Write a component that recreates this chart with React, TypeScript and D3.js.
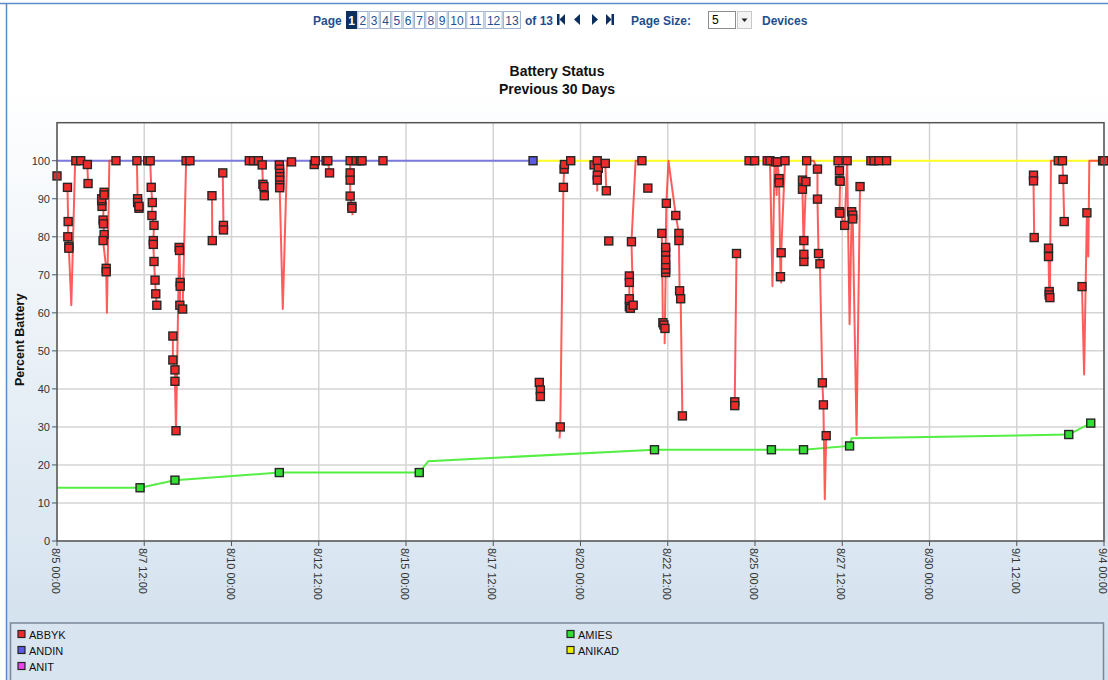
import React from "react";
import * as d3 from "d3";

// ---------- data ----------
// time = days after 8/5 00:00, value = percent battery, m = marker shown (1) or not (0)
type Pt = [number, number, number];

const startDate = new Date(2014, 7, 5, 0, 0);
const spanDays = 30;
const xTickStepDays = 2.5;
const yTicks = [0, 10, 20, 30, 40, 50, 60, 70, 80, 90, 100];
const pageNumbers = [1, 2, 3, 4, 5, 6, 7, 8, 9, 10, 11, 12, 13];

const abbykRuns: Pt[][] = [
  [[0.0, 96, 1]],
  [[0.3, 93, 1], [0.32, 84, 1], [0.31, 80, 1], [0.34, 77.5, 1], [0.34, 77, 1], [0.41, 62, 0], [0.52, 100, 0], [0.54, 100, 1], [0.68, 100, 1], [0.87, 99, 1], [0.89, 94, 1]],
  [[1.29, 88, 1], [1.28, 89.5, 1], [1.28, 90, 1], [1.35, 91.7, 1], [1.35, 91, 1], [1.32, 84.4, 1], [1.33, 83.4, 1], [1.35, 80.6, 1], [1.32, 79, 1], [1.41, 71.7, 1], [1.41, 70.8, 1], [1.43, 60, 0], [1.5, 100, 0], [1.69, 100, 1]],
  [[2.29, 100, 1], [2.31, 90, 1], [2.31, 89, 1], [2.35, 87.5, 1], [2.35, 88, 1]],
  [[2.6, 100, 1], [2.67, 100, 1], [2.7, 93, 1], [2.73, 89, 1], [2.72, 85.6, 1], [2.78, 83, 1], [2.76, 79, 1], [2.76, 78, 1], [2.78, 73.5, 1], [2.81, 68.6, 1], [2.83, 65, 1], [2.86, 62, 1]],
  [[3.32, 53.9, 1], [3.32, 47.6, 1], [3.38, 45, 1], [3.38, 42, 1], [3.41, 29, 1], [3.5, 77.2, 1], [3.51, 76.4, 1], [3.53, 68, 1], [3.53, 67, 1], [3.52, 62, 1], [3.6, 61, 1], [3.7, 100, 1], [3.81, 100, 1]],
  [[4.44, 90.8, 1], [4.45, 79, 1]],
  [[4.75, 96.8, 1], [4.77, 83, 1], [4.77, 81.8, 1]],
  [[5.51, 100, 1], [5.63, 100, 1], [5.77, 100, 1], [5.88, 98.9, 1], [5.9, 93.8, 1], [5.93, 93.2, 1], [5.94, 90.8, 1]],
  [[6.37, 98.9, 1], [6.38, 97.8, 1], [6.38, 96.7, 1], [6.38, 95.8, 1], [6.38, 94.9, 1], [6.38, 93.6, 1], [6.38, 92.9, 1], [6.47, 61, 0], [6.59, 100, 0], [6.72, 99.7, 1]],
  [[7.37, 99, 1], [7.4, 100, 1]],
  [[7.71, 100, 1], [7.76, 100, 1], [7.81, 96.8, 1]],
  [[8.4, 100, 1], [8.4, 96.8, 1], [8.4, 94.9, 1], [8.4, 90.7, 1], [8.45, 88, 1], [8.45, 87.5, 1], [8.47, 85.7, 0]],
  [[8.57, 100, 1], [8.69, 100, 1], [8.74, 100, 1]],
  [[9.34, 100, 1]],
  [[13.82, 41.7, 1], [13.85, 39.7, 1], [13.85, 38, 1]],
  [[14.4, 27, 0], [14.42, 30, 1], [14.51, 93, 1], [14.53, 97.8, 1], [14.54, 99, 1], [14.72, 100, 1]],
  [[15.39, 98.9, 1], [15.48, 100, 1], [15.51, 98, 1], [15.48, 96.2, 1], [15.48, 94.9, 1], [15.48, 91.9, 0]],
  [[15.71, 99.3, 1], [15.74, 92.1, 1]],
  [[15.81, 78.9, 1]],
  [[16.4, 69.7, 1], [16.4, 68, 1], [16.4, 63.7, 1], [16.4, 61.6, 1], [16.43, 61.2, 1], [16.51, 62, 1], [16.46, 78.7, 1], [16.58, 100, 0], [16.76, 100, 1]],
  [[16.93, 92.8, 1]],
  [[17.33, 80.9, 1], [17.36, 57.4, 1], [17.39, 56.8, 1], [17.42, 55.9, 1], [17.41, 52, 0], [17.44, 70.6, 1], [17.44, 71.5, 1], [17.44, 72.6, 1], [17.44, 74, 1], [17.44, 76, 1], [17.44, 77.2, 1], [17.46, 88.8, 1], [17.52, 100, 0], [17.73, 85.6, 1], [17.82, 80.9, 1], [17.82, 79, 1], [17.84, 65.8, 1], [17.87, 63.7, 1], [17.92, 32.9, 1]],
  [[19.47, 75.6, 1], [19.42, 36.6, 1], [19.42, 35.6, 1]],
  [[19.83, 100, 1], [19.99, 100, 1]],
  [[20.35, 100, 1], [20.43, 100, 1], [20.5, 67, 0], [20.56, 100, 0], [20.59, 99.7, 1], [20.62, 91, 0], [20.64, 99.7, 1], [20.69, 95.3, 1], [20.69, 94.2, 1], [20.73, 69.5, 1], [20.75, 68, 0], [20.75, 75.8, 1], [20.86, 100, 1]],
  [[21.36, 94.9, 1], [21.36, 92.5, 1], [21.4, 73.5, 1], [21.4, 75.4, 1], [21.4, 79, 1], [21.46, 94.5, 1], [21.48, 100, 1], [21.68, 100, 0], [21.79, 97.8, 1], [21.79, 89.9, 1], [21.82, 75.6, 1], [21.86, 72.9, 1], [21.93, 41.6, 1], [21.96, 35.8, 1], [22.0, 11, 0], [22.04, 27.7, 1]],
  [[22.38, 100, 1], [22.42, 97.4, 1], [22.42, 94.9, 1], [22.44, 94.6, 1], [22.42, 86.6, 1], [22.43, 86.2, 1], [22.57, 83, 1], [22.64, 100, 1], [22.71, 57, 0], [22.77, 86.6, 1], [22.8, 85.7, 1], [22.8, 84.7, 1], [22.91, 27.9, 0], [23.01, 93.2, 1]],
  [[23.32, 100, 1], [23.41, 100, 1], [23.55, 100, 1], [23.77, 100, 1]],
  [[27.98, 96.2, 1], [27.98, 94.7, 1], [28.0, 79.8, 1]],
  [[28.41, 77, 1], [28.41, 74.8, 1], [28.43, 65.6, 1], [28.43, 64.7, 1], [28.45, 64, 1], [28.48, 100, 0], [28.69, 100, 1], [28.81, 100, 1], [28.83, 95.1, 1], [28.86, 84, 1]],
  [[29.37, 66.9, 1], [29.43, 43.8, 0], [29.51, 86.3, 1], [29.55, 74.8, 0], [29.58, 100, 0], [29.96, 100, 1], [30.0, 100, 1]],
];

const amiesPoints: Pt[] = [
  [0, 14, 0], [2.38, 14, 1], [3.38, 16, 1], [6.37, 18, 1], [10.38, 18, 1], [10.64, 21, 0],
  [17.12, 24, 1], [20.47, 24, 1], [21.39, 24, 1], [22.71, 25, 1], [22.77, 27, 0], [28.99, 28, 1], [29.62, 31, 1],
];
const andinPoints: Pt[] = [[0, 100, 0], [13.64, 100, 1]];
const anikadPoints: Pt[] = [[13.64, 100, 0], [30, 100, 0]];
const anitPoints: Pt[] = [];

const legendLeft = ["ABBYK", "ANDIN", "ANIT"];
const legendRight = ["AMIES", "ANIKAD"];

const seriesColors: Record<string, { line: string; marker: string }> = {
  ABBYK: { line: "#ff4040", marker: "#ee2a2a" },
  ANDIN: { line: "#7a7ae0", marker: "#5a5ae6" },
  ANIT: { line: "#ee55ee", marker: "#ee44ee" },
  AMIES: { line: "#55ee44", marker: "#33dd33" },
  ANIKAD: { line: "#ffff22", marker: "#eeee00" },
};

// ---------- layout ----------
const W = 1108;
const H = 680;
const M = { left: 57, right: 1104, top: 122.7, bottom: 541 };

const toDate = (d: number) => new Date(startDate.getTime() + d * 864e5);
const endDate = toDate(spanDays);
const x = d3.scaleTime().domain([startDate, endDate]).range([M.left, M.right]);
const y = d3.scaleLinear().domain([0, 110]).range([M.bottom, M.top]);
const xTicks = d3.range(0, spanDays + 0.001, xTickStepDays).map(toDate);
const fmt = d3.timeFormat("%-m/%-d %H:%M");

const line = d3
  .line<Pt>()
  .x((p) => x(toDate(p[0])))
  .y((p) => y(p[1]));

const FONT = "'Liberation Sans', Arial, sans-serif";
const NAVY = "#0d2f5e";
const BLUE_TXT = "#1f4f8f";

function Marker({ p, fill }: { p: Pt; fill: string }) {
  const cx = x(toDate(p[0]));
  const cy = y(p[1]);
  return <rect x={cx - 4} y={cy - 4} width={8} height={8} fill={fill} stroke="#262626" strokeWidth={1.4} />;
}

function Pager() {
  let px = 346;
  const boxes = pageNumbers.map((n) => {
    const w = n < 10 ? 10 : 17;
    const el = (
      <g key={n}>
        <rect x={px + 0.5} y={11.5} width={w} height={17} fill={n === 1 ? NAVY : "#ffffff"} stroke={n === 1 ? NAVY : "#9fb4d0"} strokeWidth={1} />
        <text x={px + 0.5 + w / 2} y={24.5} textAnchor="middle" fontSize={12} fill={n === 1 ? "#ffffff" : BLUE_TXT} fontWeight={n === 1 ? "bold" : "normal"}>
          {n}
        </text>
      </g>
    );
    px += w + 1.33;
    return el;
  });
  return (
    <g fontFamily={FONT}>
      <text x={313} y={24.5} fontSize={12} fontWeight="bold" fill={BLUE_TXT}>Page</text>
      {boxes}
      <text x={525} y={24.5} fontSize={12} fontWeight="bold" fill={BLUE_TXT}>of 13</text>
      <rect x={557} y={14} width={2.5} height={11} fill={NAVY} />
      <path d="M565,14 L559.5,19.5 L565,25 Z" fill={NAVY} />
      <path d="M580,14 L574,19.5 L580,25 Z" fill={NAVY} />
      <path d="M592,14 L598,19.5 L592,25 Z" fill={NAVY} />
      <path d="M606,14 L611.5,19.5 L606,25 Z" fill={NAVY} />
      <rect x={611.5} y={14} width={2.5} height={11} fill={NAVY} />
      <text x={631} y={24.5} fontSize={12} fontWeight="bold" fill={BLUE_TXT}>Page Size:</text>
      <rect x={708.5} y={11.5} width={27} height={17} fill="#ffffff" stroke="#8c8c8c" />
      <text x={712} y={24} fontSize={12} fill="#000">5</text>
      <rect x={737.5} y={11.5} width={14} height={17} fill="#f4f4f4" stroke="#c8c8c8" />
      <path d="M741.5,18.5 L747.5,18.5 L744.5,22 Z" fill="#222" />
      <text x={762} y={24.5} fontSize={12} fontWeight="bold" fill={BLUE_TXT}>Devices</text>
    </g>
  );
}

export default function App() {
  const allSeries: { name: string; pts: Pt[] }[] = [
    { name: "ANDIN", pts: andinPoints },
    { name: "ANIKAD", pts: anikadPoints },
    { name: "ANIT", pts: anitPoints },
    { name: "AMIES", pts: amiesPoints },
  ];
  return (
    <svg width={W} height={H} style={{ position: "absolute", left: 0, top: 0, display: "block" }} fontFamily={FONT}>
      <defs>
        <linearGradient id="bg" x1="0" y1="0" x2="0" y2="1">
          <stop offset="0" stopColor="#ffffff" />
          <stop offset="0.12" stopColor="#ffffff" />
          <stop offset="1" stopColor="#d0dfed" />
        </linearGradient>
      </defs>
      <rect x={0} y={0} width={W} height={H} fill="#ffffff" />
      <rect x={6} y={3} width={W} height={H} fill="url(#bg)" />
      <line x1={0} y1={3.5} x2={W} y2={3.5} stroke="#5b8cc8" strokeWidth={1.5} />
      <line x1={6.5} y1={3} x2={6.5} y2={H} stroke="#5b8cc8" strokeWidth={1.5} />

      <Pager />

      <text x={557} y={76} textAnchor="middle" fontSize={14} fontWeight="bold" fill="#111">Battery Status</text>
      <text x={557} y={94} textAnchor="middle" fontSize={14} fontWeight="bold" fill="#111">Previous 30 Days</text>

      {/* plot area */}
      <rect x={M.left} y={M.top} width={M.right - M.left} height={M.bottom - M.top} fill="#ffffff" />
      {yTicks.map((t) => (
        <line key={"gy" + t} x1={M.left} x2={M.right} y1={y(t)} y2={y(t)} stroke="#d4d4d4" strokeWidth={1.5} />
      ))}
      {xTicks.map((t, i) => (
        <line key={"gx" + i} x1={x(t)} x2={x(t)} y1={M.top} y2={M.bottom} stroke="#d4d4d4" strokeWidth={1.5} />
      ))}

      {/* series lines */}
      {allSeries.map((s) =>
        s.pts.length ? (
          <path key={"l" + s.name} d={line(s.pts) || ""} fill="none" stroke={seriesColors[s.name].line} strokeWidth={2} />
        ) : null
      )}
      {abbykRuns.map((run, i) =>
        run.length > 1 ? (
          <path key={"r" + i} d={line(run) || ""} fill="none" stroke={seriesColors.ABBYK.line} strokeOpacity={0.85} strokeWidth={2} strokeLinejoin="round" />
        ) : null
      )}

      {/* markers */}
      {allSeries.map((s) =>
        s.pts.filter((p) => p[2]).map((p, j) => <Marker key={s.name + j} p={p} fill={seriesColors[s.name].marker} />)
      )}
      {abbykRuns.map((run, i) =>
        run.filter((p) => p[2]).map((p, j) => <Marker key={"m" + i + "_" + j} p={p} fill={seriesColors.ABBYK.marker} />)
      )}

      {/* frame */}
      <rect x={M.left} y={M.top} width={M.right - M.left} height={M.bottom - M.top} fill="none" stroke="#555" strokeWidth={1.5} />

      {/* y axis */}
      {yTicks.map((t) => (
        <g key={"yt" + t}>
          <line x1={M.left - 5} x2={M.left} y1={y(t)} y2={y(t)} stroke="#555" strokeWidth={1} />
          <text x={M.left - 7} y={y(t) + 4} textAnchor="end" fontSize={11} fill="#333">{t}</text>
        </g>
      ))}
      <text transform={`translate(24,${(M.top + M.bottom) / 2 + 8}) rotate(-90)`} textAnchor="middle" fontSize={12.5} fontWeight="bold" fill="#111">
        Percent Battery
      </text>

      {/* x axis */}
      {xTicks.map((t, i) => (
        <g key={"xt" + i}>
          <line x1={x(t)} x2={x(t)} y1={M.bottom} y2={M.bottom + 5} stroke="#555" strokeWidth={1} />
          <text transform={`translate(${x(t) - 5},${M.bottom + 7}) rotate(90)`} fontSize={11} fill="#333">
            {fmt(t)}
          </text>
        </g>
      ))}

      {/* legend */}
      <rect x={10.5} y={623} width={1093} height={60} fill="#d8e5f0" stroke="#7b8797" strokeWidth={1.5} />
      {legendLeft.map((n, i) => (
        <g key={n}>
          <rect x={18} y={630.5 + i * 16} width={7} height={7} fill={seriesColors[n].marker} stroke="#262626" strokeWidth={1.2} />
          <text x={29} y={638.5 + i * 16} fontSize={11} fill="#111">{n}</text>
        </g>
      ))}
      {legendRight.map((n, i) => (
        <g key={n}>
          <rect x={567} y={630.5 + i * 16} width={7} height={7} fill={seriesColors[n].marker} stroke="#262626" strokeWidth={1.2} />
          <text x={578} y={638.5 + i * 16} fontSize={11} fill="#111">{n}</text>
        </g>
      ))}
    </svg>
  );
}
